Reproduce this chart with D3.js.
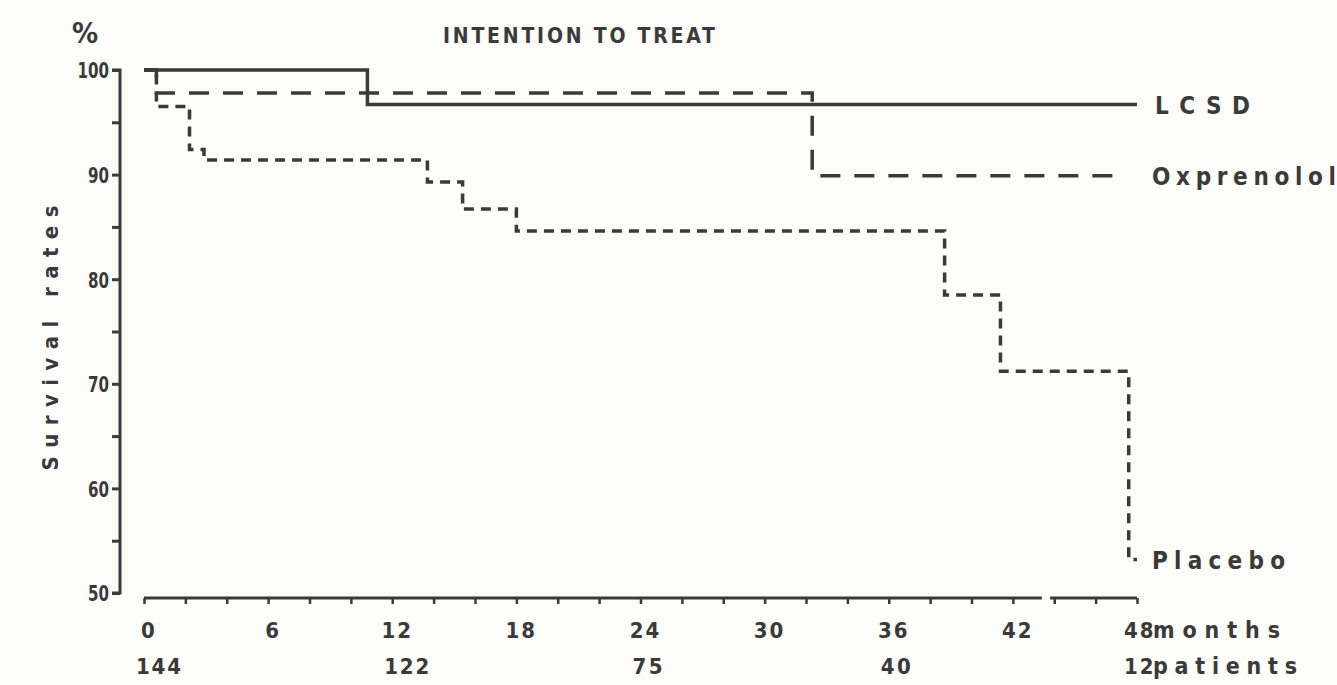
<!DOCTYPE html>
<html>
<head>
<meta charset="utf-8">
<script src="https://cdn.jsdelivr.net/npm/d3@7/dist/d3.min.js"></script>
<style>
  html, body { margin: 0; padding: 0; background: #fcfcf8; }
  svg { display: block; }
  text { font-family: "Liberation Sans Narrow", "DejaVu Sans Condensed", "Liberation Sans", sans-serif; font-weight: bold; fill: #3a3a3a; }
</style>
</head>
<body>
<script>
// Kaplan-Meier survival curves, intention-to-treat analysis
const lcsdMonths = [0, 10.8, 48];
const lcsdSurvival = [100, 96.7, 96.7];

const oxprenololMonths = [0, 0.6, 32.3, 47.2];
const oxprenololSurvival = [100, 97.8, 89.9, 89.9];

const placeboMonths = [0, 0.6, 2.2, 2.9, 13.7, 15.4, 18.0, 38.7, 41.4, 47.6, 48];
const placeboSurvival = [100, 96.5, 92.4, 91.4, 89.3, 86.7, 84.6, 78.5, 71.2, 53.2, 53.2];

// Patients at risk along the time axis
const riskMonths = [0, 12, 24, 36, 48];
const riskCounts = [144, 122, 75, 40, 12];

const xTickValues = [0, 6, 12, 18, 24, 30, 36, 42];
const yTickValues = [50, 60, 70, 80, 90, 100];

const W = 1337, H = 685;
const ink = "#3a3a3a";

const svg = d3.select("body").append("svg").attr("width", W).attr("height", H);

const x = d3.scaleLinear().domain([0, 48]).range([144, 1137]);
const y = d3.scaleLinear().domain([50, 100]).range([593, 70]);

// Y axis: major ticks every 10, minor every 5
const yAxis = d3.axisLeft(y)
  .tickValues(d3.range(50, 101, 5))
  .tickSize(8)
  .tickPadding(3)
  .tickFormat(d => yTickValues.includes(d) ? d : "");
const gy = svg.append("g").attr("transform", "translate(120,0)").call(yAxis);
gy.attr("font-family", null).attr("font-size", null);
gy.select(".domain").attr("d", `M-8,${y(100)}H0V${y(50)}H-8`)
  .attr("stroke", ink).attr("stroke-width", 3).attr("fill", "none");
gy.selectAll(".tick line").attr("stroke", ink).attr("stroke-width", 3);
gy.selectAll(".tick text")
  .attr("font-size", 22).attr("fill", ink).attr("dy", "0.36em")
  .filter(d => yTickValues.includes(d))
  .attr("textLength", d => String(d).length * 10.5)
  .attr("lengthAdjust", "spacingAndGlyphs");

// X axis: ticks every 2 months, labelled every 6, small break near 44
const axisY = 598;
const xAxis = d3.axisBottom(x)
  .tickValues(d3.range(0, 49, 2))
  .tickSize(6)
  .tickFormat(() => "");
const gx = svg.append("g").attr("transform", `translate(0,${axisY})`).call(xAxis);
gx.select(".domain").remove();
gx.selectAll(".tick line").attr("stroke", ink).attr("stroke-width", 2.5);
const axisSegments = [[0, 43.4], [43.8, 48]];
svg.selectAll("line.xseg").data(axisSegments).enter().append("line")
  .attr("class", "xseg")
  .attr("x1", d => x(d[0])).attr("x2", d => x(d[1]))
  .attr("y1", axisY).attr("y2", axisY)
  .attr("stroke", ink).attr("stroke-width", 3);

svg.selectAll("text.xlab").data(xTickValues).enter().append("text")
  .attr("class", "xlab")
  .attr("x", d => x(d) + 5).attr("y", 638)
  .attr("text-anchor", "middle").attr("font-size", 22)
  .attr("letter-spacing", 2)
  .text(d => d);

// "48 months" at the end of the axis
svg.append("text").attr("x", x(48) - 13).attr("y", 638).attr("font-size", 22)
  .attr("letter-spacing", 2).text("48");
svg.append("text").attr("x", 1153).attr("y", 638).attr("font-size", 23)
  .attr("textLength", 127).attr("lengthAdjust", "spacing").text("months");

// Patients at risk row
svg.selectAll("text.risk").data(riskCounts.slice(0, 4)).enter().append("text")
  .attr("class", "risk")
  .attr("x", (d, i) => x(riskMonths[i]) - 8).attr("y", 674)
  .attr("font-size", 22)
  .attr("textLength", d => String(d).length * 15)
  .attr("lengthAdjust", "spacing")
  .text(d => d);
svg.append("text").attr("x", x(48) - 13).attr("y", 674).attr("font-size", 22)
  .attr("letter-spacing", 2).text(riskCounts[4]);
svg.append("text").attr("x", 1153).attr("y", 674).attr("font-size", 23)
  .attr("textLength", 144).attr("lengthAdjust", "spacing").text("patients");

// Survival step curves
const line = d3.line()
  .x(d => x(d[0]))
  .y(d => y(d[1]))
  .curve(d3.curveStepAfter);

const series = [
  { name: "Placebo", months: placeboMonths, values: placeboSurvival, dash: "10,7" },
  { name: "Oxprenolol", months: oxprenololMonths, values: oxprenololSurvival, dash: "20,14" },
  { name: "LCSD", months: lcsdMonths, values: lcsdSurvival, dash: null }
];

svg.selectAll("path.curve").data(series).enter().append("path")
  .attr("class", "curve")
  .attr("d", s => line(s.months.map((m, i) => [m, s.values[i]])))
  .attr("fill", "none")
  .attr("stroke", ink)
  .attr("stroke-width", 3.5)
  .attr("stroke-dasharray", s => s.dash);

// Series labels
const labelSpec = [
  { text: "LCSD", x: 1155, y: lcsdSurvival[2], len: 95 },
  { text: "Oxprenolol", x: 1152, y: oxprenololSurvival[3], len: 184 },
  { text: "Placebo", x: 1152, y: placeboSurvival[10], len: 133 }
];
svg.selectAll("text.series").data(labelSpec).enter().append("text")
  .attr("class", "series")
  .attr("x", d => d.x).attr("y", d => y(d.y) + 9)
  .attr("font-size", 24)
  .attr("textLength", d => d.len).attr("lengthAdjust", "spacing")
  .text(d => d.text);

// Title and axis captions
svg.append("text").attr("x", 443).attr("y", 43).attr("font-size", 21)
  .attr("textLength", 272).attr("lengthAdjust", "spacing")
  .text("INTENTION TO TREAT");

svg.append("text").attr("x", 85).attr("y", 43).attr("text-anchor", "middle")
  .attr("font-size", 29).attr("font-weight", "normal").text("%");

svg.append("text")
  .attr("transform", "translate(58,338) rotate(-90)")
  .attr("text-anchor", "middle").attr("font-size", 22)
  .attr("textLength", 265).attr("lengthAdjust", "spacing")
  .text("Survival rates");
</script>
</body>
</html>
